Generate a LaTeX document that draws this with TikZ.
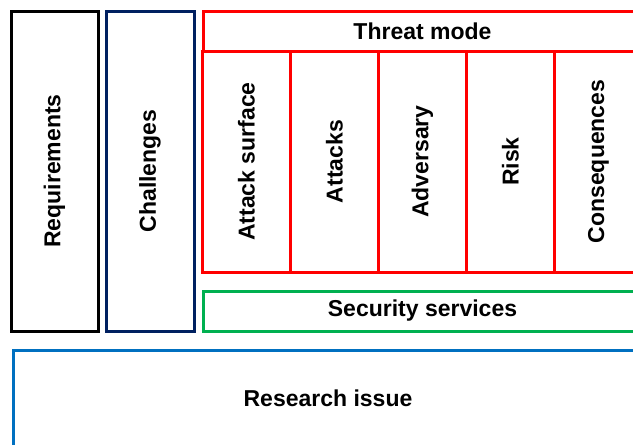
\documentclass[tikz,border=0pt]{standalone}
\usepackage{fontspec}
\setmainfont{Liberation Sans}
\definecolor{navy}{HTML}{002060}
\definecolor{sgreen}{HTML}{00B050}
\definecolor{rblue}{HTML}{0070C0}
\begin{document}
\begin{tikzpicture}[x=1pt,y=-1pt,line width=3pt,
  box/.style={draw,rectangle,inner sep=0pt,font=\bfseries\fontsize{23}{23}\selectfont},
  col/.style={box,draw=red,rotate=90,minimum width=221pt,minimum height=88pt}]
\clip (0,0) rectangle (633,445);
% left columns
\node[box,rotate=90,minimum width=320pt,minimum height=87pt] (req) at (54.5,171) {Requirements};
\node[box,draw=navy,rotate=90,minimum width=320pt,minimum height=88pt] (chal) at (150,171) {Challenges};
% threat mode
\node[box,draw=red,minimum width=439pt,minimum height=40pt] (threat) at (422.5,31) {Threat mode};
\node[col] (surf) at (246.5,161.5) {Attack surface};
\node[col] (att) at (334.5,161.5) {Attacks};
\node[col] (adv) at (422.5,161.5) {Adversary};
\node[col] (risk) at (510.5,161.5) {Risk};
\node[col] (cons) at (598.5,161.5) {Consequences};
% services and research
\node[box,draw=sgreen,minimum width=439pt,minimum height=40pt] (serv) at (422.5,311) {Security services};
\node[box,draw=rblue,minimum width=630pt,minimum height=96pt] (res) at (328,398) {Research issue};
\end{tikzpicture}
\end{document}
